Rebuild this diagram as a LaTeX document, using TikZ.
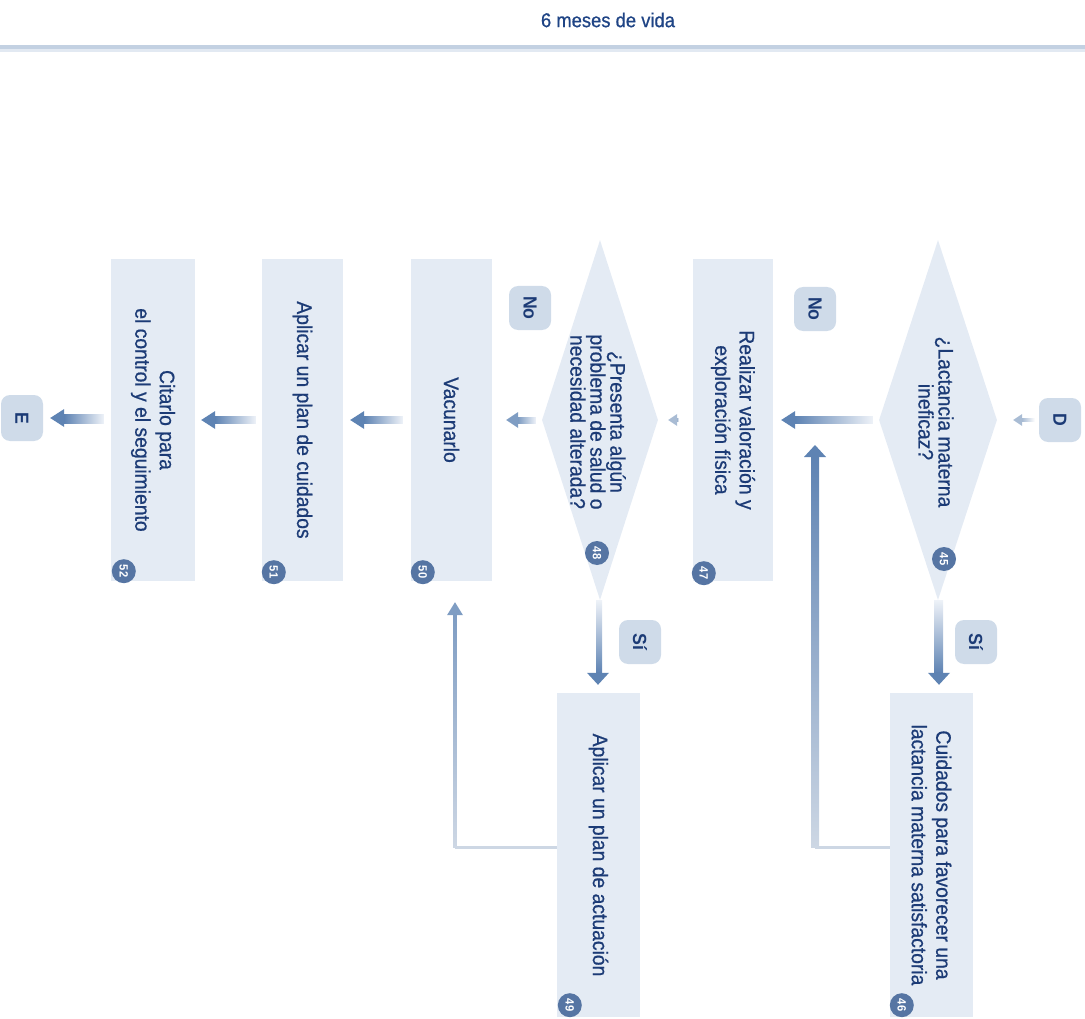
\documentclass[tikz,border=0pt]{standalone}
\usepackage{fontspec}
\setmainfont{Liberation Sans}[FakeStretch=0.93]
\newfontfamily\stepfont{Liberation Sans}[FakeStretch=0.92, FakeBold=0.7]
\usetikzlibrary{shapes.geometric,calc}

\definecolor{boxfill}{HTML}{E4EBF4}
\definecolor{inkblue}{HTML}{1C3B76}
\definecolor{titleblue}{HTML}{1F4485}
\definecolor{tagfill}{HTML}{CFDBE9}
\definecolor{numfill}{HTML}{5675A3}
\definecolor{flowdark}{HTML}{5E83B3}
\definecolor{flowmid}{HTML}{7F9DC3}
\definecolor{flowlight}{HTML}{EEF2F8}
\definecolor{flowpale}{HTML}{A9BCD4}
\definecolor{linkgrey}{HTML}{CDD7E4}
\definecolor{rulecol}{HTML}{C3D1E2}
\definecolor{rulesoft}{HTML}{E2E9F2}

% shaded arrow pointing left: tail, tip, shaft half-width, head half-width, head length, dark, light
\newcommand{\flowleft}[7]{%
  \path[left color=#6, right color=#7] ($(#2)+(#5,-#3)$) rectangle ($(#1)+(0,#3)$);
  \fill[#6] (#2) -- ($(#2)+(#5,-#4)$) -- ($(#2)+(#5,#4)$) -- cycle;}
% shaded arrow pointing down (tail above tip)
\newcommand{\flowdown}[7]{%
  \path[top color=#7, bottom color=#6] ($(#1)+(-#3,0)$) rectangle ($(#2)+(#3,-#5)$);
  \fill[#6] (#2) -- ($(#2)+(-#4,-#5)$) -- ($(#2)+(#4,-#5)$) -- cycle;}
% shaded arrow pointing up (tail below tip)
\newcommand{\flowup}[7]{%
  \path[top color=#6, bottom color=#7] ($(#2)+(-#3,#5)$) rectangle ($(#1)+(#3,0)$);
  \fill[#6] (#2) -- ($(#2)+(-#4,#5)$) -- ($(#2)+(#4,#5)$) -- cycle;}

\tikzset{
  stepbox/.style={rectangle, fill=boxfill, draw=none, inner sep=0pt,
    minimum width=81, minimum height=322},
  choice/.style={diamond, fill=boxfill, draw=none, inner sep=0pt,
    minimum width=118, minimum height=360},
  boxtext/.style={rotate=-90, align=center, text=inkblue, inner sep=0pt,
    font=\stepfont\fontsize{21}{24.5}\selectfont},
  choicetext/.style={boxtext, font=\stepfont\fontsize{21}{20}\selectfont},
  tag/.style={rectangle, rounded corners=9, fill=tagfill, text=inkblue,
    rotate=-90, inner sep=0pt, minimum width=44, minimum height=42,
    font=\fontsize{19}{19}\selectfont\bfseries},
  stepnum/.style={circle, fill=numfill, text=white, inner sep=0pt,
    minimum size=24, rotate=-90, font=\fontsize{12}{12}\selectfont\bfseries},
}

\begin{document}
\begin{tikzpicture}[x=1pt, y=-1pt]
\useasboundingbox (0,0) rectangle (1085,1019);

% header
\node[text=titleblue, font=\stepfont\fontsize{20}{24}\selectfont] (title) at (608,20) {6 meses de vida};
\draw[rulecol, line width=4] (0,47) -- (1085,47);
\draw[rulesoft, line width=3] (0,51) -- (1085,51);

% main row
\node[tag] (D) at (1060,420) {D};
\node[choice] (c45) at (938,420) {};
\node[choicetext] (c45t) at (936,422) {¿Lactancia materna\\ineficaz?};
\node[tag] (no1) at (815,309) {No};
\node[stepbox, minimum width=80] (b47) at (733,420) {};
\node[boxtext] (b47t) at (b47) {Realizar valoración y\\exploración física};
\node[choice, minimum width=116] (c48) at (600,420) {};
\node[choicetext] (c48t) at (598,422) {¿Presenta algún\\problema de salud o\\necesidad alterada?};
\node[tag] (no2) at (530,308) {No};
\node[stepbox] (b50) at (451.5,420) {};
\node[boxtext] (b50t) at (b50) {Vacunarlo};
\node[stepbox] (b51) at (302.5,420) {};
\node[boxtext] (b51t) at (b51) {Aplicar un plan de cuidados};
\node[stepbox, minimum width=84] (b52) at (153,420) {};
\node[boxtext] (b52t) at (b52) {Citarlo para\\el control y el seguimiento};
\node[tag, minimum width=46] (E) at (22,418) {E};

% lower row
\node[tag] (si1) at (976,642) {Sí};
\node[stepbox, minimum width=83, minimum height=324] (b46) at (931.5,855) {};
\node[boxtext] (b46t) at (b46) {Cuidados para favorecer una\\lactancia materna satisfactoria};
\node[tag] (si2) at (640,642) {Sí};
\node[stepbox, minimum width=83, minimum height=324] (b49) at (598.5,855) {};
\node[boxtext] (b49t) at (b49) {Aplicar un plan de actuación};

% step numbers
\node[stepnum] (n45) at (944,559) {45};
\node[stepnum] (n46) at ($(b46.south west)+(12,-12)$) {46};
\node[stepnum] (n47) at ($(b47.south west)+(11,-8)$) {47};
\node[stepnum] (n48) at (597,553) {48};
\node[stepnum] (n49) at ($(b49.south west)+(13,-12)$) {49};
\node[stepnum] (n50) at ($(b50.south west)+(12,-9)$) {50};
\node[stepnum] (n51) at ($(b51.south west)+(12,-9)$) {51};
\node[stepnum] (n52) at ($(b52.south west)+(13,-10)$) {52};

% connectors along the main row
\coordinate (a1s) at ($(D.south)+(-4,0)$);
\coordinate (a1e) at ($(c45.east)+(16,0)$);
\flowleft{a1s}{a1e}{1.5}{6}{9}{flowpale}{white}
\coordinate (a2s) at ($(c45.west)+(-6,0)$);
\coordinate (a2e) at ($(b47.east)+(8,0)$);
\flowleft{a2s}{a2e}{3.5}{9}{14}{flowdark}{flowlight}
\coordinate (a3s) at ($(b47.west)+(-14,0)$);
\coordinate (a3e) at ($(c48.east)+(10,0)$);
\flowleft{a3s}{a3e}{1.5}{6}{9}{flowpale}{white}
\coordinate (a4s) at ($(c48.west)+(-6,0)$);
\coordinate (a4e) at ($(b50.east)+(14,0)$);
\flowleft{a4s}{a4e}{3}{8}{12}{flowmid}{flowlight}
\coordinate (a5s) at ($(b50.west)+(-8,0)$);
\coordinate (a5e) at ($(b51.east)+(7,0)$);
\flowleft{a5s}{a5e}{3.5}{9}{14}{flowdark}{flowlight}
\coordinate (a6s) at ($(b51.west)+(-6,0)$);
\coordinate (a6e) at ($(b52.east)+(6,0)$);
\flowleft{a6s}{a6e}{3.5}{9}{14}{flowdark}{flowlight}
\coordinate (a7s) at ($(b52.west)+(-7,0)$);
\coordinate (a7e) at ($(E.north)+(7,0)$);
\flowleft{a7s}{a7e}{3.5}{9}{14}{flowdark}{flowlight}

% yes branches
\coordinate (s1s) at (c45.south);
\coordinate (s1e) at ($(b46.north)+(7.5,-8)$);
\flowdown{s1s}{s1e}{4}{11}{12}{flowdark}{flowlight}
\coordinate (s2s) at (c48.south);
\coordinate (s2e) at ($(b49.north)+(-0.5,-8)$);
\flowdown{s2s}{s2e}{4}{11}{12}{flowdark}{flowlight}

% returns to the main row
\coordinate (r1a) at ($(b46.west)+(0,-8)$);
\coordinate (r1b) at (815,847);
\coordinate (r1e) at (815,445);
\draw[linkgrey, line width=3] (r1a) -- (r1b);
\flowup{r1b}{r1e}{4}{11}{12}{flowdark}{linkgrey}
\coordinate (r2a) at ($(b49.west)+(0,-8)$);
\coordinate (r2b) at (455,847);
\coordinate (r2e) at ($(b50.south)+(3.5,21)$);
\draw[linkgrey, line width=3] (r2a) -- (r2b);
\flowup{r2b}{r2e}{1.8}{8}{13}{flowmid}{linkgrey}
\end{tikzpicture}
\end{document}
